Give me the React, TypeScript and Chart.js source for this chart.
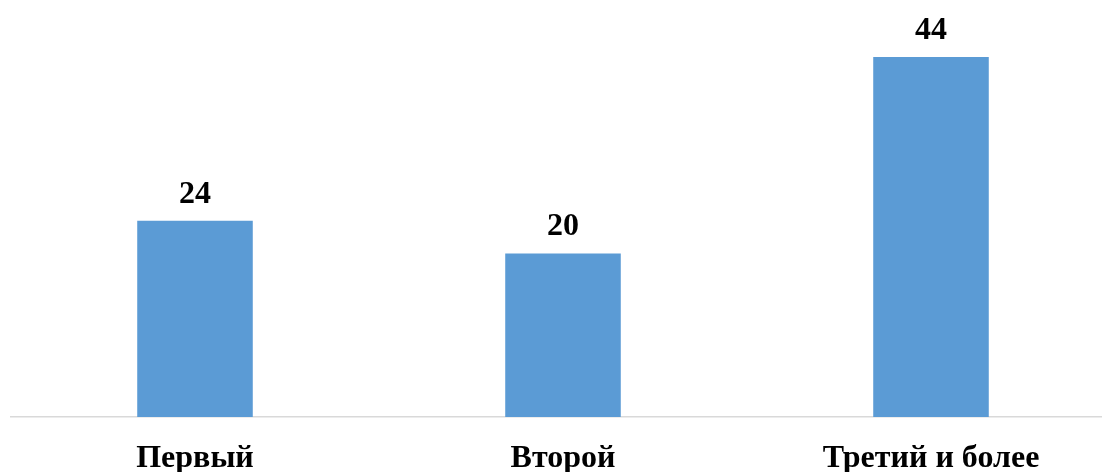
import React, { useEffect, useRef } from "react";
import { Chart, registerables } from "chart.js";

Chart.register(...registerables);

const categories = ["Первый", "Второй", "Третий и более"];
const values = [24, 20, 44];

const FONT = '"Liberation Serif", "Times New Roman", serif';

const dataLabels = {
  id: "dataLabels",
  afterDatasetsDraw(chart: any) {
    const ctx = chart.ctx;
    const meta = chart.getDatasetMeta(0);
    ctx.save();
    ctx.font = `bold 32px ${FONT}`;
    ctx.fillStyle = "#000000";
    ctx.textAlign = "center";
    ctx.textBaseline = "alphabetic";
    meta.data.forEach((bar: any, i: number) => {
      ctx.fillText(String(values[i]), bar.x, bar.y - 18);
    });
    ctx.restore();
  },
};

export default function App() {
  const ref = useRef<HTMLCanvasElement>(null);
  useEffect(() => {
    if (!ref.current) return;
    const chart = new Chart(ref.current, {
      type: "bar",
      data: {
        labels: categories,
        datasets: [
          {
            data: values,
            backgroundColor: "#5B9BD5",
            categoryPercentage: 1,
            barPercentage: 0.314,
          },
        ],
      },
      options: {
        responsive: false,
        animation: false,
        layout: { padding: { left: 11, right: 5, top: 8, bottom: 3.6 } },
        plugins: { legend: { display: false }, tooltip: { enabled: false } },
        scales: {
          x: {
            grid: { display: false, drawTicks: false },
            border: { display: true, color: "#d9d9d9", width: 1.5 },
            ticks: {
              color: "#000000",
              padding: 23,
              font: { family: FONT, size: 32, weight: "bold", lineHeight: 1.2 },
            },
          },
          y: {
            display: false,
            min: 0,
            max: 50,
          },
        },
      },
      plugins: [dataLabels],
    });
    return () => chart.destroy();
  }, []);
  return (
    <div
      style={{
        position: "fixed",
        left: 0,
        top: 0,
        width: 1102,
        height: 472,
        overflow: "hidden",
        background: "#ffffff",
      }}
    >
      <canvas ref={ref} width={1120} height={505} style={{ display: "block" }} />
    </div>
  );
}
